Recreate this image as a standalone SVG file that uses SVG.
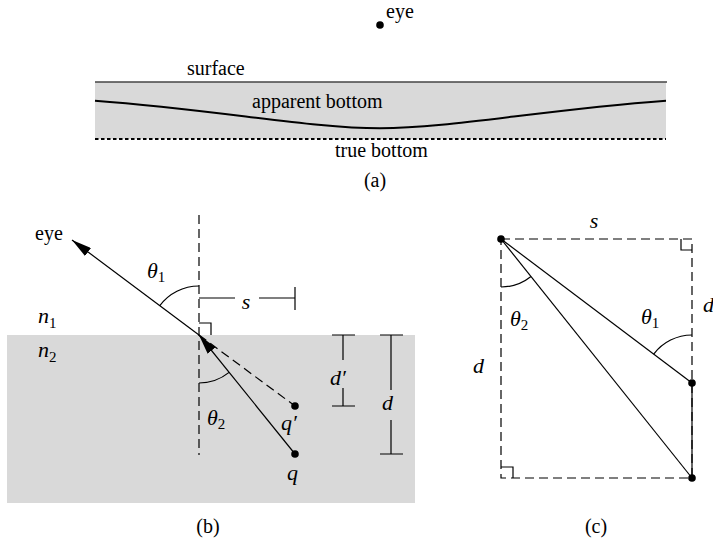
<svg xmlns="http://www.w3.org/2000/svg" width="713" height="542" viewBox="0 0 713 542">
<defs>
<style>
.ln{stroke:#000;stroke-width:1.2;fill:none}
.dash{stroke:#000;stroke-width:1.2;fill:none;stroke-dasharray:9 5}
.water{fill:#d9d9d9;stroke:none}
.dot{fill:#000}
text{font-family:"Liberation Serif","Times New Roman",serif;font-size:20px;fill:#000}
.m{font-style:italic;font-size:22px}
.sub{font-size:15px;font-style:normal}
</style>
<marker id="arr" viewBox="0 0 20 10" markerWidth="20" markerHeight="10" refX="20" refY="5" orient="auto" markerUnits="userSpaceOnUse">
<path d="M0,0 L20,5 L0,10 z" fill="#000"/>
</marker>
</defs>

<!-- Panel (a) -->
<g id="panel-a">
<rect class="water" x="95" y="82" width="571" height="57"/>
<g id="surface"><line x1="95" y1="82" x2="667" y2="82" stroke="#444" stroke-width="1.3"/>
<text x="187" y="75">surface</text></g>
<g id="apparent-bottom"><path d="M95,100.7 C220,110 310,128.3 380,128.3 C450,128.3 540,110 666,100.7" stroke="#000" stroke-width="2" fill="none"/>
<text x="252" y="108">apparent bottom</text></g>
<g id="true-bottom"><line x1="95" y1="139" x2="666" y2="139" stroke="#000" stroke-width="2" stroke-dasharray="3.5 2.5"/>
<text x="335" y="157">true bottom</text></g>
<g id="eye-a"><circle class="dot" cx="380" cy="25" r="3.8"/><text x="386" y="18">eye</text></g>
<text x="375" y="187" text-anchor="middle">(a)</text>
</g>

<!-- Panel (b) -->
<g id="panel-b">
<rect class="water" x="7" y="335" width="408" height="168"/>
<line class="dash" x1="199" y1="215" x2="199" y2="455"/>
<text class="m" x="38" y="323">n<tspan class="sub" dy="5">1</tspan></text>
<text class="m" x="38" y="357">n<tspan class="sub" dy="5">2</tspan></text>
<g id="eye-b"><text x="35" y="240" font-size="24">eye</text></g>
<g id="q-prime"><circle class="dot" cx="295" cy="406" r="3.8"/><text class="m" x="281" y="430">q′</text></g>
<g id="q"><circle class="dot" cx="295" cy="454" r="3.8"/><text class="m" x="287" y="480">q</text></g>
<g id="connectors-b">
<line class="ln" x1="199" y1="335" x2="72" y2="240" marker-end="url(#arr)"/>
<line class="ln" x1="295" y1="454" x2="199" y2="335" marker-end="url(#arr)"/>
<line class="dash" x1="199" y1="335" x2="295" y2="406"/>
<path class="ln" d="M199,323 H211 V335"/>
<path class="ln" d="M199,286 A49,49 0 0 0 159.6,305.9"/>
<path class="ln" d="M199,383 A48,48 0 0 0 229.1,372.4"/>
<path class="ln" d="M199,298 H235 M259,298 H295 M295,287 V310"/>
<path class="ln" d="M332,335 H355 M343,335 V360 M343,388 V406 M332,406 H355"/>
<path class="ln" d="M380,335 H403 M391,335 V390 M391,420 V454 M380,454 H403"/>
</g>
<text class="m" x="147" y="278">θ<tspan class="sub" dy="4">1</tspan></text>
<text class="m" x="207" y="425">θ<tspan class="sub" dy="4">2</tspan></text>
<text class="m" x="246" y="309" text-anchor="middle">s</text>
<text class="m" x="330" y="385">d′</text>
<text class="m" x="382" y="410">d</text>
<text x="208" y="533" text-anchor="middle">(b)</text>
</g>

<!-- Panel (c) -->
<g id="panel-c">
<g id="connectors-c">
<path class="dash" d="M501,239 H692 V478 H501 Z"/>
<path class="ln" d="M681,239 V250 H692"/>
<path class="ln" d="M501,467 H513 V478"/>
<line class="ln" x1="501" y1="239" x2="692" y2="383"/>
<line class="ln" x1="501" y1="239" x2="692" y2="478"/>
<line class="ln" x1="692" y1="383" x2="692" y2="478"/>
<path class="ln" d="M501,287 A48,48 0 0 0 531,276.5"/>
<path class="ln" d="M692,335 A48,48 0 0 0 653.7,354.1"/>
</g>
<g id="pt-a"><circle class="dot" cx="501" cy="239" r="3.8"/></g>
<g id="pt-b"><circle class="dot" cx="692" cy="383" r="3.8"/></g>
<g id="pt-c"><circle class="dot" cx="692" cy="478" r="3.8"/></g>
<text class="m" x="594" y="228" text-anchor="middle">s</text>
<text class="m" x="510" y="326">θ<tspan class="sub" dy="4">2</tspan></text>
<text class="m" x="641" y="324">θ<tspan class="sub" dy="4">1</tspan></text>
<text class="m" x="473" y="373">d</text>
<text class="m" x="703" y="312">d</text>
<text x="596" y="533" text-anchor="middle">(c)</text>
</g>
</svg>
